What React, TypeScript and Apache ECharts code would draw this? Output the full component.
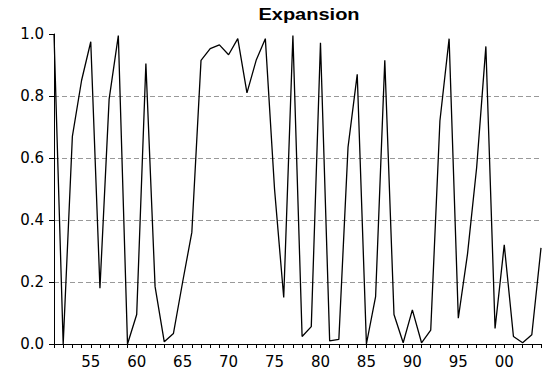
import React, { useEffect, useRef } from "react";
import * as echarts from "echarts";

const years: number[] = [
  1951, 1952, 1953, 1954, 1955, 1956, 1957, 1958, 1959, 1960,
  1961, 1962, 1963, 1964, 1965, 1966, 1967, 1968, 1969, 1970,
  1971, 1972, 1973, 1974, 1975, 1976, 1977, 1978, 1979, 1980,
  1981, 1982, 1983, 1984, 1985, 1986, 1987, 1988, 1989, 1990,
  1991, 1992, 1993, 1994, 1995, 1996, 1997, 1998, 1999, 2000,
  2001, 2002, 2003, 2004,
];

const expansion: number[] = [
  1.0, 0.0, 0.67, 0.85, 0.975, 0.18, 0.79, 0.995, 0.0, 0.095,
  0.905, 0.185, 0.007, 0.034, 0.2, 0.36, 0.915, 0.953, 0.965, 0.933,
  0.985, 0.81, 0.915, 0.985, 0.5, 0.15, 0.995, 0.024, 0.056, 0.972,
  0.01, 0.015, 0.635, 0.87, 0.0, 0.153, 0.915, 0.095, 0.004, 0.11,
  0.004, 0.045, 0.72, 0.985, 0.083, 0.29, 0.57, 0.96, 0.05, 0.32,
  0.024, 0.004, 0.03, 0.31,
];

const titleText = "Expansion";

export default function App() {
  const ref = useRef<HTMLDivElement>(null);
  useEffect(() => {
    if (!ref.current) return;
    const chart = echarts.init(ref.current, null, { renderer: "svg" });
    const font = "DejaVu Sans";
    chart.setOption({
      animation: false,
      backgroundColor: "#ffffff",
      graphic: [
        {
          type: "text",
          x: 309,
          y: 15,
          scaleX: 1.25,
          style: {
            text: titleText,
            font: "bold 16px 'Liberation Sans', Arial, sans-serif",
            fill: "#000",
            textAlign: "center",
            textVerticalAlign: "middle",
          },
        },
      ],
      grid: { left: 54, right: 1, top: 34, bottom: 34, containLabel: false },
      xAxis: {
        type: "value",
        min: 1951,
        max: 2004,
        interval: 1,
        axisLine: { show: true, onZero: false, lineStyle: { color: "#000", width: 1 } },
        axisTick: { show: true, length: 4, inside: false, lineStyle: { color: "#000" } },
        splitLine: { show: false },
        axisLabel: {
          margin: 10,
          fontFamily: font,
          fontSize: 15,
          color: "#000",
          showMinLabel: true,
          showMaxLabel: true,
          formatter: (v: number) => (v % 5 === 0 ? String(v).slice(2) : ""),
        },
      },
      yAxis: {
        type: "value",
        min: 0,
        max: 1,
        interval: 0.2,
        axisLine: { show: true, lineStyle: { color: "#000", width: 1 } },
        axisTick: { show: true, length: 5, lineStyle: { color: "#000" } },
        axisLabel: {
          margin: 10,
          fontFamily: font,
          fontSize: 15,
          color: "#000",
          formatter: (v: number) => v.toFixed(1),
        },
        splitLine: {
          show: true,
          lineStyle: { color: "#999", type: [5, 3], width: 1 },
          showMinLine: false,
          showMaxLine: false,
        },
      },
      series: [
        {
          type: "line",
          data: years.map((y, i) => [y, expansion[i]]),
          showSymbol: false,
          symbol: "none",
          lineStyle: { color: "#000", width: 1.3 },
          clip: false,
        },
      ],
    });
    return () => chart.dispose();
  }, []);
  return (
    <div
      ref={ref}
      style={{ position: "fixed", left: 0, top: 0, width: 544, height: 378 }}
    />
  );
}
